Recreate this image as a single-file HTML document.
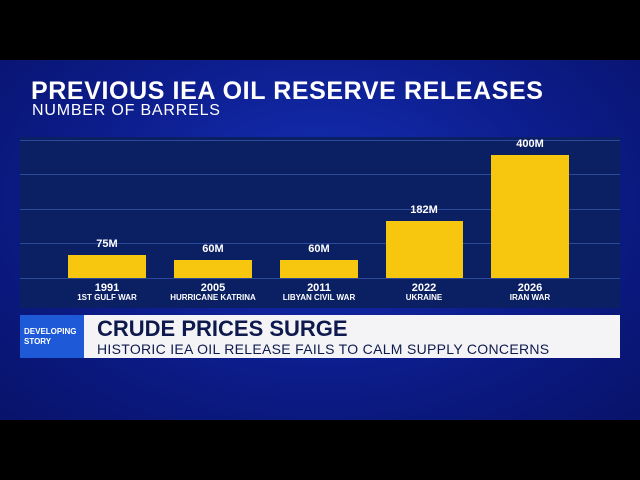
<!DOCTYPE html>
<html><head><style>
body{margin:0;width:640px;height:480px;background:#000;overflow:hidden;font-family:"Liberation Sans",sans-serif;position:relative}
.bg{position:absolute;left:0;top:60px;width:640px;height:360px;background:radial-gradient(ellipse at 50% 40%,#1530b8 0%,#0c1c8a 55%,#08136a 100%)}
.a{position:absolute}
.panel{left:20px;top:137px;width:600px;height:171px;background:#0b1f63}
.g{position:absolute;left:20px;width:600px;height:1px;background:#2c4a9a}
.bar{position:absolute;background:#f7c70f}
.v,.y,.s{position:absolute;color:#fff;font-weight:bold;text-align:center;width:120px}
.v{font-size:11px}.y{font-size:11px;top:282px}.s{font-size:8px;top:293px}
</style></head><body>
<div class="bg"></div>
<div class="a" style="left:31px;top:77px;color:#fff;font-weight:bold;font-size:25px;letter-spacing:0.6px">PREVIOUS IEA OIL RESERVE RELEASES</div>
<div class="a" style="left:32px;top:102px;color:#fff;font-size:16px;letter-spacing:0.8px">NUMBER OF BARRELS</div>
<div class="a panel"></div>
<div class="g" style="top:140px"></div><div class="g" style="top:174px"></div><div class="g" style="top:209px"></div><div class="g" style="top:243px"></div><div class="g" style="top:278px"></div>
<div class="bar" style="left:68px;top:255px;width:78px;height:23px"></div>
<div class="bar" style="left:174px;top:260px;width:78px;height:18px"></div>
<div class="bar" style="left:280px;top:260px;width:78px;height:18px"></div>
<div class="bar" style="left:386px;top:221px;width:77px;height:57px"></div>
<div class="bar" style="left:491px;top:155px;width:78px;height:123px"></div>
<div class="v" style="left:47px;top:238px">75M</div>
<div class="v" style="left:153px;top:243px">60M</div>
<div class="v" style="left:259px;top:243px">60M</div>
<div class="v" style="left:364px;top:204px">182M</div>
<div class="v" style="left:470px;top:138px">400M</div>
<div class="y" style="left:47px">1991</div><div class="s" style="left:47px">1ST GULF WAR</div>
<div class="y" style="left:153px">2005</div><div class="s" style="left:153px">HURRICANE KATRINA</div>
<div class="y" style="left:259px">2011</div><div class="s" style="left:259px">LIBYAN CIVIL WAR</div>
<div class="y" style="left:364px">2022</div><div class="s" style="left:364px">UKRAINE</div>
<div class="y" style="left:470px">2026</div><div class="s" style="left:470px">IRAN WAR</div>
<div class="a" style="left:20px;top:315px;width:64px;height:43px;background:#1e5ad8"></div>
<div class="a" style="left:24px;top:327px;color:#fff;font-weight:bold;font-size:8px;line-height:10px">DEVELOPING<br>STORY</div>
<div class="a" style="left:84px;top:315px;width:536px;height:43px;background:#f4f4f6"></div>
<div class="a" style="left:97px;top:316px;color:#0e1a4e;font-weight:bold;font-size:22px">CRUDE PRICES SURGE</div>
<div class="a" style="left:97px;top:341px;color:#0e1a4e;font-size:14px;letter-spacing:0.3px">HISTORIC IEA OIL RELEASE FAILS TO CALM SUPPLY CONCERNS</div>
</body></html>
